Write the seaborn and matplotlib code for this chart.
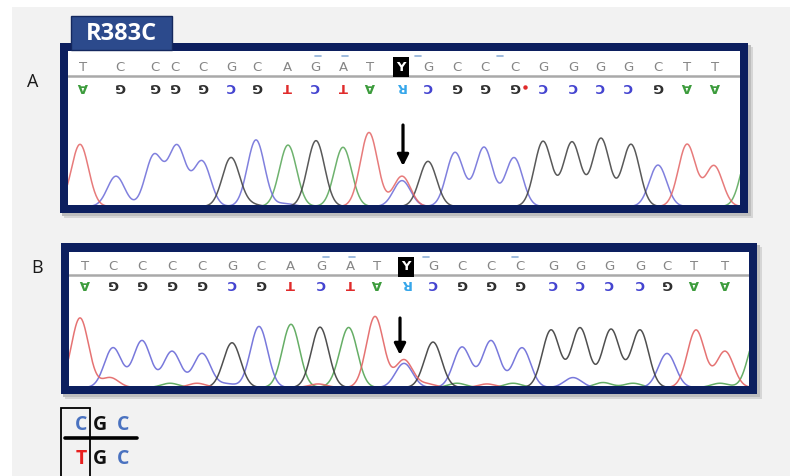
import numpy as np
import pandas as pd
import matplotlib
matplotlib.use("Agg")
import matplotlib.pyplot as plt
import matplotlib.transforms as mtransforms
from matplotlib.patches import Rectangle
from matplotlib.lines import Line2D
import seaborn as sns

sns.set_theme(style="white")
plt.rcParams["font.family"] = ["DejaVu Sans"]

# ---------------- data ----------------
mutation_label = "R383C"
panel_labels = ["A", "B"]

seq_A = list("TCCCCGCAGATYGCCCGGGGCTT")
pos_A = [83, 120, 155, 175, 203, 231, 257, 287, 315, 343, 370, 401,
         428, 457, 485, 515, 543, 573, 600, 628, 658, 687, 715]
qual_marks_A = [318, 345, 418, 500]

seq_B = list("TCCCCGCAGATYGCCCGGGGCTT")
pos_B = [85, 113, 142, 172, 202, 232, 261, 290, 321, 350, 377, 406,
         433, 462, 491, 520, 553, 580, 609, 640, 667, 694, 725]
qual_marks_B = [326, 352, 426, 515]

# chromatogram peaks: channel, scan position, relative height
peak_base_A = ["T", "C", "C", "C", "C", "G", "C", "A", "G", "A", "T", "T", "C",
               "G", "C", "C", "C", "G", "G", "G", "G", "C", "T", "T", "A",
               "C", "G"]
peak_pos_A = [80, 116, 154, 177, 202, 231, 256, 288, 316, 343, 369, 402, 402,
              428, 455, 484, 514, 543, 572, 601, 631, 658, 687, 714, 750,
              285, 250]
peak_h_A = [0.84, 0.41, 0.69, 0.81, 0.61, 0.66, 0.90, 0.83, 0.89, 0.80, 1.00, 0.41, 0.35,
            0.61, 0.73, 0.80, 0.66, 0.88, 0.87, 0.92, 0.84, 0.56, 0.84, 0.55, 0.80,
            0.04, 0.03]

peak_base_B = ["T", "C", "C", "C", "C", "G", "C", "A", "G", "A", "T", "T", "C",
               "G", "C", "C", "C", "G", "G", "G", "G", "C", "T", "T", "A",
               "T", "A", "T", "C", "T", "A", "T", "A", "T", "A", "C", "A", "A", "A"]
peak_pos_B = [80, 113, 142, 172, 202, 232, 259, 291, 320, 349, 375, 404, 404,
              433, 462, 491, 522, 551, 580, 611, 640, 667, 696, 725, 757,
              110, 170, 197, 227, 318, 340, 427, 457, 487, 513, 573, 603, 633, 720]
peak_h_B = [0.98, 0.56, 0.66, 0.51, 0.48, 0.63, 0.86, 0.89, 0.85, 0.81, 1.00, 0.39, 0.34,
            0.64, 0.57, 0.66, 0.56, 0.81, 0.84, 0.82, 0.81, 0.48, 0.81, 0.51, 0.75,
            0.14, 0.06, 0.06, 0.05, 0.05, 0.06, 0.05, 0.06, 0.05, 0.06, 0.14, 0.07, 0.06, 0.06]

codon_wt = ["C", "G", "C"]
codon_mut = ["T", "G", "C"]

# ---------------- styles ----------------
W, H = 790, 476
NAVY = "#0c1f5f"
trace_colors = {"A": "#55a555", "C": "#6a6ad8", "G": "#3c3c3c", "T": "#e36464"}
comp = {"A": "T", "T": "A", "G": "C", "C": "G", "Y": "R"}
call_colors = {"A": "#3b9b3b", "T": "#e02a2a", "G": "#2e2e2e", "C": "#4343d0", "R": "#35a6ea"}
SIGMA = 8.6
LETTER_FONT = ["Liberation Sans Narrow", "DejaVu Sans"]

fig = plt.figure(figsize=(W / 100, H / 100), dpi=100)
fig.patch.set_facecolor("white")


def fx(x):
    return x / W


def fy(y):
    return 1 - y / H


def frect(x0, y0, x1, y1, **kw):
    r = Rectangle((fx(x0), fy(y1)), (x1 - x0) / W, (y1 - y0) / H,
                  transform=fig.transFigure, **kw)
    fig.add_artist(r)
    return r


# light gray page background
frect(12, 7, 800, 490, facecolor="#f2f2f2", edgecolor="none", zorder=0)


def panel(inner, outer, seq, pos, pbase, ppos, ph, yb, unit, y_top, y_line, y_bot,
          marks, mark_y, arrow, alpha, dot=None):
    X0, Y0, X1, Y1 = inner
    ox0, oy0, ox1, oy1 = outer
    # shadow
    frect(ox0 + 4, oy0 + 4, ox1 + 5, oy1 + 5, facecolor="#d6d6d6", edgecolor="none", zorder=1)
    frect(ox0 + 2, oy0 + 2, ox1 + 3, oy1 + 3, facecolor="#bdbdbd", edgecolor="none", zorder=1)
    frect(ox0, oy0, ox1, oy1, facecolor=NAVY, edgecolor="none", zorder=2)
    ax = fig.add_axes([fx(X0), fy(Y1), (X1 - X0) / W, (Y1 - Y0) / H], zorder=3)
    ax.set_facecolor("white")

    grid = np.arange(X0 - 2, X1 + 2, 0.5)
    frames = []
    for ch in ["A", "C", "G", "T"]:
        sig = np.zeros_like(grid)
        for b, p, h in zip(pbase, ppos, ph):
            if b == ch:
                sig += h * np.exp(-((grid - p) ** 2) / (2 * SIGMA ** 2))
        frames.append(pd.DataFrame({"scan": grid, "signal": sig, "channel": ch}))
    df = pd.concat(frames, ignore_index=True)
    sns.lineplot(data=df, x="scan", y="signal", hue="channel", palette=trace_colors,
                 estimator=None, sort=False, legend=False, linewidth=1.1, alpha=alpha, ax=ax)

    ax.set_xlim(X0, X1)
    ax.set_ylim((yb - Y1) / unit, (yb - Y0) / unit)
    ax.set_xticks([])
    ax.set_yticks([])
    ax.set_xlabel("")
    ax.set_ylabel("")
    for s in ax.spines.values():
        s.set_visible(False)

    tr = mtransforms.blended_transform_factory(ax.transData, ax.transAxes)

    def af(ypx):
        return (Y1 - ypx) / (Y1 - Y0)

    ax.add_line(Line2D([0, 1], [af(y_line)] * 2, transform=ax.transAxes,
                       color="#a9a9a9", lw=1.8, zorder=2))
    for b, p in zip(seq, pos):
        if b == "Y":
            ax.text(p, af(y_top), b, transform=tr, ha="center", va="center",
                    fontsize=9.5, color="white", fontweight="bold", family=LETTER_FONT,
                    bbox=dict(boxstyle="square,pad=0.25", fc="black", ec="none"), zorder=4)
        else:
            ax.text(p, af(y_top), b, transform=tr, ha="center", va="center",
                    fontsize=9.5, color="#858585", family=LETTER_FONT, zorder=4)
        cb = comp[b]
        ax.text(p, af(y_bot), cb, transform=tr, ha="center", va="center", rotation=180,
                fontsize=9.5, color=call_colors[cb], fontweight="bold",
                family=LETTER_FONT, zorder=4)
    for m in marks:
        ax.add_line(Line2D([m - 3, m + 3], [af(mark_y)] * 2, transform=tr,
                           color="#8fb0d8", lw=1.2, zorder=4))
    if dot is not None:
        ax.plot([dot[0]], [af(dot[1])], marker="o", ms=2.2, color="#e02a2a",
                transform=tr, zorder=4)
    ax_x, ay_top, ay_bot = arrow
    ax.annotate("", xy=(ax_x, af(ay_bot)), xytext=(ax_x, af(ay_top)),
                xycoords=tr, textcoords=tr,
                arrowprops=dict(arrowstyle="-|>,head_width=0.28,head_length=0.55",
                                lw=2.3, color="black", shrinkA=0, shrinkB=0),
                zorder=5)
    return ax


# Panel A
panel(inner=(68, 51, 740, 205), outer=(60, 43, 748, 213),
      seq=seq_A, pos=pos_A, pbase=peak_base_A, ppos=peak_pos_A, ph=peak_h_A,
      yb=206.5, unit=74, y_top=67, y_line=76, y_bot=86,
      marks=qual_marks_A, mark_y=56, arrow=(pos_A[11] + 2, 125, 166), alpha=0.85,
      dot=(525, 87))

# Panel B
panel(inner=(69, 252, 749, 386), outer=(61, 243, 757, 394),
      seq=seq_B, pos=pos_B, pbase=peak_base_B, ppos=peak_pos_B, ph=peak_h_B,
      yb=387.5, unit=71, y_top=267, y_line=275, y_bot=284,
      marks=qual_marks_B, mark_y=257, arrow=(pos_B[11] - 6, 318, 355), alpha=0.9)

# mutation tab
frect(71, 16, 172, 50, facecolor="#2c4a8c", edgecolor="#14285e", linewidth=1.0, zorder=6)
fig.text(fx(121.5), fy(33.5), mutation_label, ha="center", va="center", color="white",
         fontsize=17, fontweight="bold", family=["Open Sans", "DejaVu Sans"], zorder=7)

# panel letters
fig.text(fx(33), fy(82), panel_labels[0], ha="center", va="center", fontsize=13,
         family=["Open Sans", "DejaVu Sans"], color="#1a1a1a")
fig.text(fx(37), fy(268), panel_labels[1], ha="center", va="center", fontsize=13,
         family=["Open Sans", "DejaVu Sans"], color="#1a1a1a")

# codon diagram
codon_colors = {"C": "#4a72c0", "G": "#111111", "T": "#e8201f"}
xs = [81, 100, 123]
for x, b in zip(xs, codon_wt):
    fig.text(fx(x), fy(425), b, ha="center", va="center", fontsize=14, fontweight="bold",
             color=codon_colors[b], family=["Open Sans", "DejaVu Sans"])
for x, b in zip(xs, codon_mut):
    fig.text(fx(x), fy(459), b, ha="center", va="center", fontsize=14, fontweight="bold",
             color=codon_colors[b], family=["Open Sans", "DejaVu Sans"])
fig.add_artist(Line2D([fx(65), fx(137)], [fy(438), fy(438)], transform=fig.transFigure,
                      color="black", lw=2.6))
frect(61, 408, 90, 480, facecolor="none", edgecolor="black", linewidth=1.3, zorder=5)

fig.savefig("out.png", dpi=100)
